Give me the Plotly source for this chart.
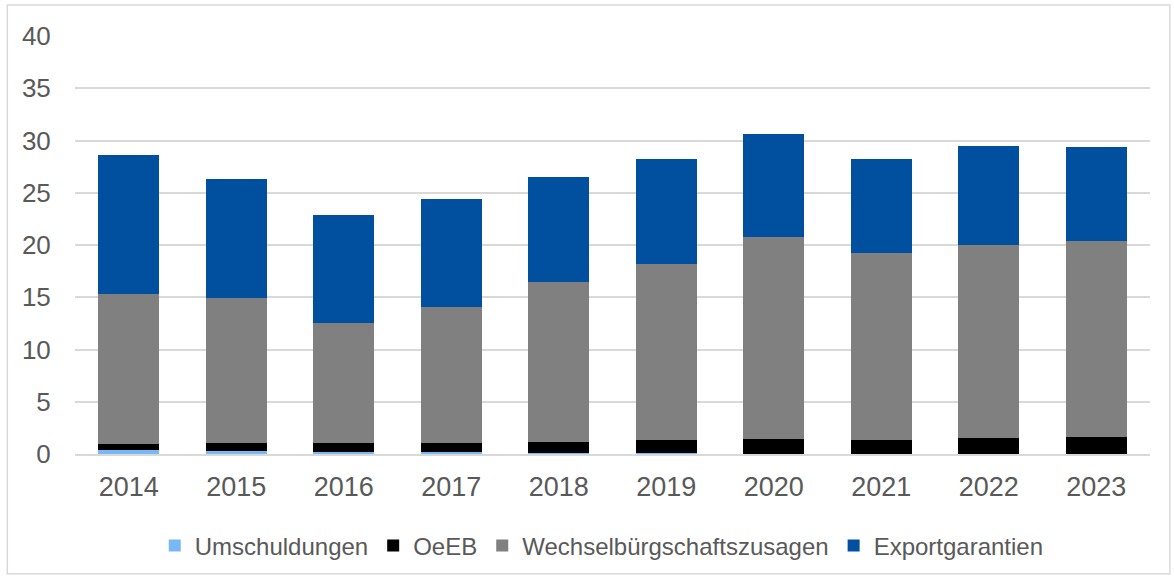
import plotly.graph_objects as go

years = ["2014", "2015", "2016", "2017", "2018", "2019", "2020", "2021", "2022", "2023"]
umschuldungen = [0.4, 0.25, 0.2, 0.15, 0.1, 0.1, 0.0, 0.0, 0.0, 0.0]
oeeb = [0.55, 0.85, 0.9, 0.93, 1.07, 1.2, 1.46, 1.37, 1.56, 1.62]
wechsel = [14.32, 13.8, 11.4, 13.02, 15.33, 16.9, 19.34, 17.83, 18.44, 18.78]
export = [13.37, 11.45, 10.4, 10.3, 10.0, 10.06, 9.8, 9.06, 9.5, 9.0]

colors = {
    "Umschuldungen": "#79b8f4",
    "OeEB": "#000000",
    "Wechselbürgschaftszusagen": "#808080",
    "Exportgarantien": "#00509f",
}
series = [
    ("Umschuldungen", umschuldungen),
    ("OeEB", oeeb),
    ("Wechselbürgschaftszusagen", wechsel),
    ("Exportgarantien", export),
]

fig = go.Figure()
for name, vals in series:
    fig.add_trace(go.Bar(x=years, y=vals, name=name, marker_color=colors[name],
                         marker_line_width=0))

fig.update_layout(
    barmode="stack",
    bargap=0.435,
    width=1174, height=579,
    margin=dict(l=75, r=24, t=36, b=124),
    paper_bgcolor="white", plot_bgcolor="white",
    font=dict(family="Liberation Sans, Arial, sans-serif", color="#595959"),
    showlegend=True,
    legend=dict(orientation="h", x=0.49, xanchor="center", y=-0.217, yanchor="middle",
                font=dict(size=24, color="#595959"), traceorder="normal",
                itemwidth=30),
    xaxis=dict(tickfont=dict(size=27), showgrid=False, showline=True,
               linecolor="#d9d9d9", linewidth=2, ticks="outside", ticklen=8,
               tickcolor="rgba(0,0,0,0)"),
    yaxis=dict(range=[0, 40], dtick=5, tickfont=dict(size=26), showgrid=True,
               gridcolor="#d9d9d9", gridwidth=1.5, zeroline=False,
               ticks="outside", ticklen=18, tickcolor="rgba(0,0,0,0)"),
    shapes=[dict(type="rect", xref="paper", yref="paper", x0=-0.063, x1=1.0185,
                 y0=-0.2864, y1=1.074, line=dict(color="#d9d9d9", width=1.5),
                 fillcolor="rgba(0,0,0,0)", layer="below")],
)

fig.write_html("out.html", config={"displayModeBar": False},
               post_script="document.body.style.margin='0';")
